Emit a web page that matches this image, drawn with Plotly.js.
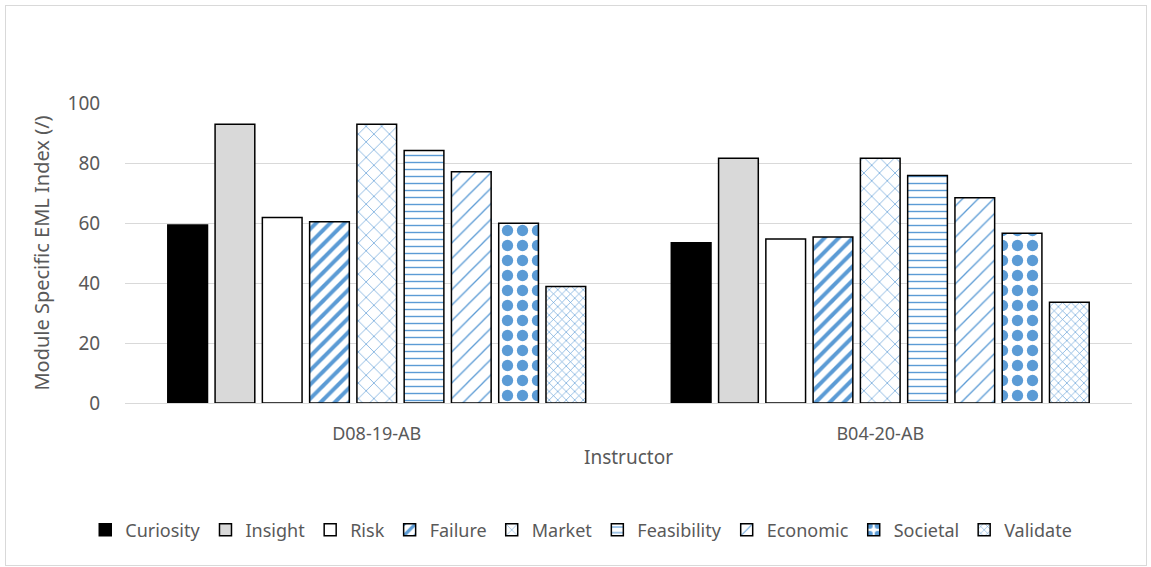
<!DOCTYPE html>
<html>
<head>
<meta charset="utf-8">
<script src="https://cdn.plot.ly/plotly-3.0.1.min.js"></script>
<style>
  html, body { margin: 0; padding: 0; background: #fff; }
  #wrap { position: relative; width: 1151px; height: 567px; }
  #chart { width: 1151px; height: 567px; }
  #frame { position: absolute; left: 5px; top: 5px; width: 1140px; height: 559px;
           border: 1px solid #d9d9d9; pointer-events: none; }
</style>
</head>
<body>
<div id="wrap">
  <div id="chart"></div>
  <div id="frame"></div>
</div>
<script>
const instructors = ["D08-19-AB", "B04-20-AB"];
const seriesNames = ["Curiosity", "Insight", "Risk", "Failure", "Market", "Feasibility", "Economic", "Societal", "Validate"];
const curiosity   = [59.3, 53.4];
const insight     = [92.9, 81.6];
const risk        = [61.8, 54.7];
const failure     = [60.4, 55.3];
const market      = [92.9, 81.6];
const feasibility = [84.2, 75.8];
const economic    = [77.1, 68.4];
const societal    = [59.9, 56.6];
const validate    = [38.8, 33.6];
const yTicks = [0, 20, 40, 60, 80, 100];

const seriesValues = [curiosity, insight, risk, failure, market, feasibility, economic, societal, validate];

const blue = "#5B9BD5";
function pat(shape, size, solidity) {
  return { shape: shape, fgcolor: blue, fgopacity: 1, bgcolor: "#FFFFFF", size: size, solidity: solidity, fillmode: "replace" };
}
const styles = [
  { color: "#000000" },
  { color: "#D9D9D9" },
  { color: "#FFFFFF" },
  { color: "#FFFFFF", pattern: pat("/", 10, 0.4) },
  { color: "#FFFFFF", pattern: pat("x", 11, 0.12) },
  { color: "#FFFFFF", pattern: pat("-", 7, 0.2) },
  { color: "#FFFFFF", pattern: pat("/", 11, 0.12) },
  { color: "#FFFFFF", pattern: pat(".", 15, 0.45) },
  { color: "#FFFFFF", pattern: pat("x", 6, 0.2) }
];

const font = "Noto Sans, Open Sans, sans-serif";
const textColor = "#595959";

const traces = seriesNames.map((name, i) => ({
  type: "bar",
  name: name,
  x: instructors,
  y: seriesValues[i],
  marker: Object.assign({ line: { color: "#000000", width: 1.5 } },
    { color: styles[i].color }, styles[i].pattern ? { pattern: styles[i].pattern } : {}),
  hoverinfo: "x+y+name"
}));

const layout = {
  width: 1151,
  height: 567,
  paper_bgcolor: "#FFFFFF",
  plot_bgcolor: "#FFFFFF",
  margin: { l: 125, r: 19, t: 103, b: 164 },
  barmode: "group",
  bargap: 0.155,
  bargroupgap: 0.16,
  font: { family: font, color: textColor, size: 18 },
  showlegend: true,
  legend: {
    orientation: "h",
    xref: "container",
    yref: "container",
    x: 0.505, xanchor: "center",
    y: 0.065, yanchor: "middle",
    font: { family: font, color: textColor, size: 18 },
    traceorder: "normal",
    itemwidth: 30
  },
  xaxis: {
    type: "category",
    showgrid: false,
    showline: true,
    linecolor: "#D9D9D9",
    linewidth: 1,
    ticks: "outside",
    ticklen: 14,
    tickcolor: "rgba(0,0,0,0)",
    tickfont: { family: font, color: textColor, size: 18 },
    title: { text: "Instructor", font: { family: font, color: textColor, size: 19 }, standoff: 7 }
  },
  yaxis: {
    range: [0, 100],
    tickvals: yTicks,
    ticktext: yTicks.map(String),
    showgrid: true,
    gridcolor: "#D9D9D9",
    gridwidth: 1,
    zeroline: false,
    showline: false,
    ticks: "outside",
    ticklen: 20,
    tickcolor: "rgba(0,0,0,0)",
    tickfont: { family: font, color: textColor, size: 19 },
    title: { text: "Module Specific EML Index (/)", font: { family: font, color: textColor, size: 20 }, standoff: 12 }
  }
};

Plotly.newPlot("chart", traces, layout, { displayModeBar: false, staticPlot: true });
</script>
</body>
</html>
